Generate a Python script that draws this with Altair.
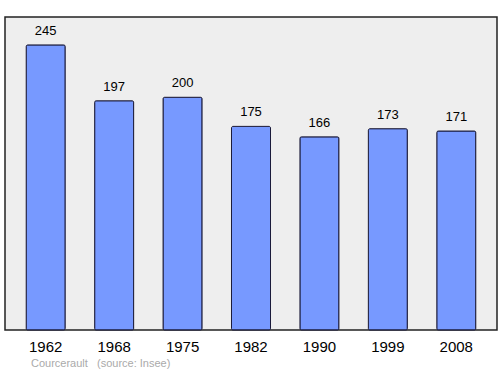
import altair as alt
import pandas as pd

years = ["1962", "1968", "1975", "1982", "1990", "1999", "2008"]
population = [245, 197, 200, 175, 166, 173, 171]
place = "Courcerault"
source = "(source: Insee)"

df = pd.DataFrame({"year": years, "pop": population})

x = alt.X("year:N", sort=years, title=None,
          scale=alt.Scale(paddingInner=0.43, paddingOuter=0.31),
          axis=alt.Axis(ticks=False, domain=False, labelAngle=0, labelFontSize=15,
                        labelFont="Liberation Sans", labelColor="#000000", labelPadding=9))
y = alt.Y("pop:Q", title=None, scale=alt.Scale(domain=[0, 269], nice=False),
          axis=None)

bars = alt.Chart(df).mark_bar(color="#7799ff", stroke="#1a1a3a", strokeWidth=1,
                              cornerRadius=1.5).encode(x=x, y=y)
labels = alt.Chart(df).mark_text(baseline="bottom", dy=-7, fontSize=13,
                                 font="Liberation Sans", color="#000000").encode(
    x=x, y=y, text="pop:Q")

foot = pd.DataFrame({"t": [place, source], "px": [26, 92]})
footer = alt.Chart(foot).mark_text(align="left", baseline="middle", fontSize=11,
                                   font="Liberation Sans", color="#aaaaaa").encode(
    x=alt.X("px:Q", scale=None), y=alt.value(347), text="t:N")

chart = alt.layer(bars, labels, footer).properties(
    width=492, height=313,
    autosize=alt.AutoSizeParams(type="none"),
    padding={"left": 5, "top": 17, "right": 3, "bottom": 44},
    background="#ffffff",
).configure_view(fill="#eeeeee", stroke="#222222", strokeWidth=1.5)

chart.save("out.html", embed_options={"renderer": "svg", "actions": False})
